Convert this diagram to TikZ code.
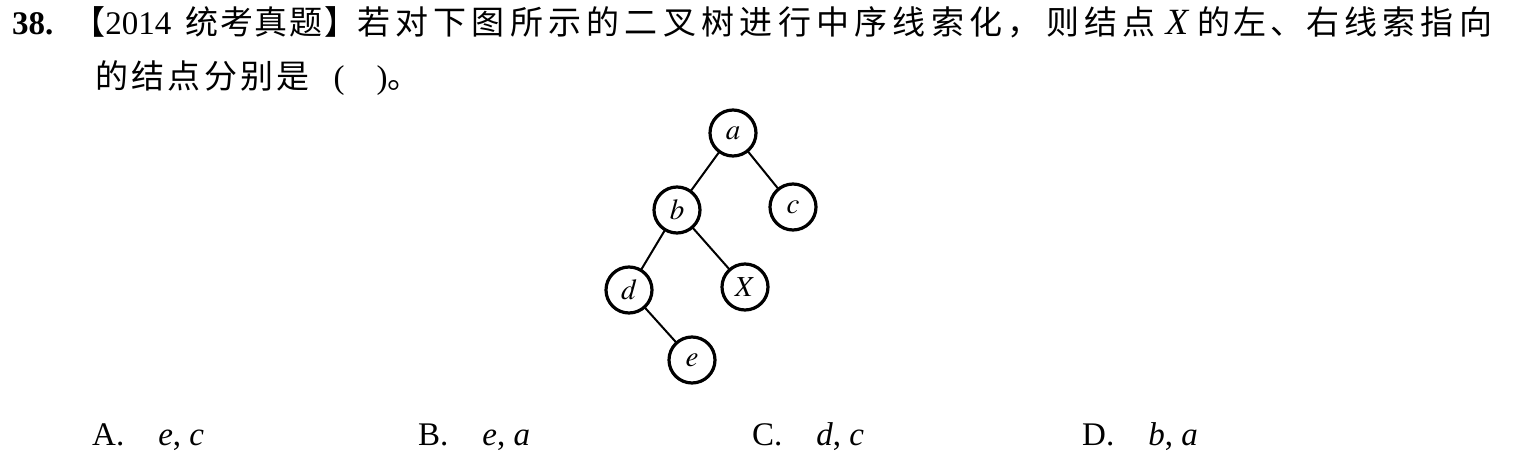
\documentclass[tikz,border=0pt]{standalone}
\usepackage{mathptmx}
\usepackage{fontspec}
\setmainfont{Liberation Serif}
\newfontfamily\cjk{Noto Sans CJK SC}[LetterSpace=10]
\newfontfamily\cjktight{Noto Sans CJK SC}[LetterSpace=5]
\newfontfamily\cjkwide{Noto Sans CJK SC}[LetterSpace=16]
\usepackage{tkz-graph}

\tikzset{txt/.style={anchor=base west,inner sep=0pt,font=\fontsize{33}{40}\selectfont}}

\begin{document}
\begin{tikzpicture}[x=1pt,y=-1pt]
    \useasboundingbox (0,0) rectangle (1518,465);
    \GraphInit[vstyle=Normal]
    \tikzset{VertexStyle/.style={draw,circle,line width=3.2pt,minimum size=46pt,
                                 inner sep=0pt,font=\fontsize{29}{29}\selectfont},
             EdgeStyle/.style={line width=2pt}}

        \node[txt] (title) at (12,35) {\textbf{38.}\hspace{19pt}{\cjk 【}2014\hspace{14pt}{\cjktight 统考真题】}{\cjkwide 若对下图所示的二叉树进行中序线索化，则结点}\hspace{10pt}{\fontsize{37}{40}\selectfont\textit{X}}\hspace{8pt}{\cjk 的左、}\hspace{3pt}{\cjkwide 右线索指向}};
        \node[txt] (line2) at (95,89) {{\cjk 的结点分别是}\hspace{24pt}(\hspace{32pt}){\cjk 。}};

        \Vertex[Math,L=a,x=733,y=133]{a}
        \Vertex[Math,L=b,x=677,y=210]{b}
        \Vertex[Math,L=c,x=793,y=207]{c}
        \Vertex[Math,L=d,x=629,y=290]{d}
        \Vertex[Math,L=X,x=745,y=287]{X}
        \Vertex[Math,L=e,x=692,y=360]{e}

        \Edge[](a)(b)
        \Edge[](a)(c)
        \Edge[](b)(d)
        \Edge[](b)(X)
        \Edge[](d)(e)

        \node[txt] (optA) at (92,445) {A.\hspace{34pt}\textit{e}, \textit{c}};
        \node[txt] (optB) at (418,445) {B.\hspace{34pt}\textit{e}, \textit{a}};
        \node[txt] (optC) at (752,445) {C.\hspace{34pt}\textit{d}, \textit{c}};
        \node[txt] (optD) at (1082,445) {D.\hspace{34pt}\textit{b}, \textit{a}};

\end{tikzpicture}
\end{document}
